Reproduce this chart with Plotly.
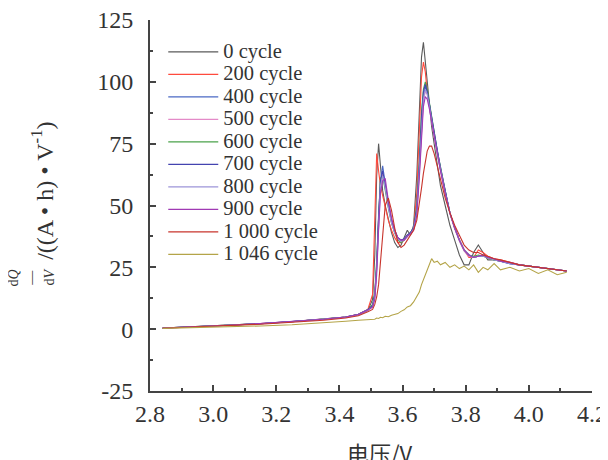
import plotly.graph_objects as go

voltage = [2.84, 2.95, 3.05, 3.15, 3.25, 3.35, 3.42, 3.46, 3.49, 3.505,
           3.512, 3.518, 3.524, 3.53, 3.537, 3.545, 3.555, 3.565, 3.575, 3.585,
           3.595, 3.605, 3.615, 3.625, 3.635, 3.645, 3.653, 3.66, 3.666, 3.672,
           3.678, 3.685, 3.692, 3.70, 3.71, 3.72, 3.735, 3.75, 3.765, 3.78,
           3.795, 3.81, 3.825, 3.84, 3.855, 3.87, 3.89, 3.91, 3.94, 3.97,
           4.00, 4.03, 4.06, 4.09, 4.12]

c0 = [0.4, 1.0, 1.5, 2.2, 3.0, 3.9, 4.8, 5.8, 7.5, 12,
      30, 62, 75, 66, 56, 50, 44, 39, 35, 33,
      34, 37, 40, 38, 42, 62, 90, 110, 116, 108,
      98, 90, 82, 75, 66, 58, 50, 42, 36, 30,
      26, 26, 31, 34, 31, 28, 28, 27.5, 26.5, 26,
      25.5, 25, 24.5, 24, 23.5]
c200 = [0.5, 1.1, 1.6, 2.3, 3.1, 4.0, 4.9, 6.0, 8.0, 14,
        40, 71, 64, 58, 54, 49, 44, 40, 37, 35,
        35, 36, 38, 39, 41, 55, 82, 102, 108, 104,
        96, 90, 84, 78, 71, 64, 55, 47, 41, 36,
        32, 29, 29, 32, 31, 29.5, 28.5, 28, 27, 26,
        25.5, 25, 24.5, 24, 23.5]
c400 = [0.5, 1.0, 1.6, 2.2, 3.1, 4.0, 4.9, 5.9, 7.8, 9,
        14, 25, 45, 60, 66, 58, 50, 44, 40, 37,
        36, 36.5, 38, 39, 41, 48, 65, 84, 94, 98,
        96, 91, 85, 79, 72, 65, 56, 47, 41, 36,
        32, 30, 29, 29.5, 29.5, 29, 28, 27.5, 26.5, 26,
        25.5, 25, 24.5, 24, 23.5]
c500 = [0.4, 1.0, 1.5, 2.3, 3.0, 3.9, 4.8, 5.8, 7.6, 9,
        13, 24, 43, 58, 63, 57, 49, 43, 39, 36.5,
        35.5, 36, 37.5, 38.5, 40.5, 47, 63, 82, 92, 96,
        95, 90, 84, 78, 71, 64, 55, 46.5, 40.5, 35.5,
        31.5, 29.5, 29, 29.5, 30, 29, 28.5, 27.5, 27, 26,
        25.5, 25, 24.5, 24, 23.5]
c600 = [0.5, 1.1, 1.6, 2.2, 3.0, 4.0, 4.9, 5.9, 7.7, 10,
        15, 28, 48, 61, 62, 56, 49, 43, 39, 36,
        35, 36, 37.5, 39, 41, 50, 68, 88, 97, 100,
        97, 92, 86, 80, 72, 65, 56, 47, 41, 36,
        32, 30, 29.5, 30, 29.5, 29, 28, 27.5, 26.5, 26,
        25.5, 25, 24.5, 24, 23.5]
c700 = [0.5, 1.0, 1.6, 2.3, 3.1, 4.0, 4.9, 6.0, 7.9, 9.5,
        14, 26, 46, 60, 64, 58, 50, 44, 40, 37,
        36, 36.5, 38, 39, 41, 49, 66, 86, 96, 99,
        96, 91, 85, 79, 72, 65, 56, 47, 41, 36,
        32, 30, 29, 29.5, 30, 29, 28.5, 27.5, 26.5, 26,
        25.5, 25, 24.5, 24, 23.5]
c800 = [0.4, 1.0, 1.5, 2.2, 3.0, 3.9, 4.8, 5.8, 7.6, 9,
        13, 24, 44, 58, 62, 57, 49, 43, 39, 36.5,
        35.5, 36, 37.5, 38.5, 40.5, 47, 64, 83, 93, 97,
        95, 90, 84, 78, 71, 64, 55, 47, 41, 36,
        32, 30, 29, 29.5, 29.5, 29, 28, 27.5, 26.5, 26,
        25.5, 25, 24.5, 24, 23.5]
c900 = [0.5, 1.0, 1.6, 2.3, 3.1, 4.0, 4.9, 5.9, 7.7, 9,
        12, 22, 40, 55, 60, 61, 52, 45, 40, 37,
        36, 36, 37.5, 38.5, 40, 46, 61, 80, 90, 94,
        93, 89, 84, 78, 71, 64, 55, 47, 41, 36,
        32, 30, 29, 29.5, 30, 29, 28.5, 27.5, 27, 26,
        25.5, 25, 24.5, 24, 23.5]
c1000 = [0.4, 0.9, 1.4, 2.0, 2.8, 3.6, 4.5, 5.4, 7.0, 8,
         10, 13, 18, 28, 40, 50, 53, 48, 41, 35,
         33, 34, 36, 38, 40, 44, 50, 57, 63, 68,
         72, 74, 74, 71, 66, 60, 53, 47, 42, 38,
         34, 32, 31, 31, 30, 29.5, 28.5, 28, 27, 26,
         25.5, 25, 24.5, 24, 23.5]
c1046 = [0.3, 0.6, 0.9, 1.3, 1.8, 2.5, 3.2, 3.6, 4.0, 4.2,
         4.0, 4.5, 4.3, 4.8, 4.6, 5.2, 5.0, 5.6, 6.0, 6.3,
         7.2, 7.8, 9.0, 9.5, 11, 13, 15, 18, 20, 22,
         24.5, 27, 28.5, 27, 27.5, 26, 27, 25, 26, 24.5,
         25.5, 24, 26, 23, 25, 24, 26.5, 24, 25, 23.5,
         24.5, 22.5, 24, 22, 23]

names = ["0 cycle", "200 cycle", "400 cycle", "500 cycle", "600 cycle",
         "700 cycle", "800 cycle", "900 cycle", "1 000 cycle", "1 046 cycle"]
series = [c0, c200, c400, c500, c600, c700, c800, c900, c1000, c1046]
colors = ["#5a5a5a", "#ff4a3d", "#4a68c4", "#e48ac8", "#4aa24a",
          "#4444b0", "#9c94d8", "#a03ab4", "#c8342c", "#b4a448"]

x_ticks = [2.8, 3.0, 3.2, 3.4, 3.6, 3.8, 4.0, 4.2]
x_labels = ["2.8", "3.0", "3.2", "3.4", "3.6", "3.8", "4.0", "4.2"]
y_ticks = [-25, 0, 25, 50, 75, 100, 125]
y_labels = ["-25", "0", "25", "50", "75", "100", "125"]

serif = "Liberation Serif"

fig = go.Figure()
for name, ys, col in zip(names, series, colors):
    fig.add_trace(go.Scatter(
        x=voltage, y=ys, mode="lines",
        name='<span style="font-size:20.5px">' + name + '</span>',
        line=dict(color=col, width=1.1)))

axis_common = dict(showline=True, linecolor="#444", linewidth=2,
                   ticks="inside", ticklen=6, tickwidth=2, tickcolor="#444",
                   showgrid=False, zeroline=False, mirror=False,
                   automargin=False, ticklabeloverflow="allow",
                   tickfont=dict(family=serif, size=24, color="#333"))

# the page body adds an 8 px offset, so the figure is 600x452
fig.update_layout(
    width=600, height=452,
    margin=dict(l=142, r=16, t=12, b=69),
    paper_bgcolor="white", plot_bgcolor="white",
    xaxis=dict(range=[2.8, 4.2], tickvals=x_ticks, ticktext=x_labels,
               minor=dict(dtick=0.1, tick0=2.8, ticks="inside", ticklen=3,
                          tickwidth=2, tickcolor="#444"),
               **axis_common),
    yaxis=dict(range=[-25, 125], tickvals=y_ticks, ticktext=y_labels,
               ticklabelstandoff=10,
               minor=dict(dtick=12.5, tick0=0, ticks="inside", ticklen=3,
                          tickwidth=2, tickcolor="#444"),
               **axis_common),
    legend=dict(x=0.03, y=0.958, xanchor="left", yanchor="top",
                bgcolor="rgba(0,0,0,0)", itemwidth=50,
                font=dict(family=serif, size=15, color="#333"),
                tracegroupgap=0),
    showlegend=True,
)

# x-axis title
fig.add_annotation(text="电压/V", xref="paper", yref="paper", x=0.52, y=-0.165,
                   xanchor="center", yanchor="middle", showarrow=False,
                   font=dict(family="Noto Sans CJK SC", size=22, color="#333"))
# y-axis title: fraction dQ/dV followed by the unit text
fig.add_annotation(text="/((A • h) • V<sup>-1</sup>)", xref="paper", yref="paper",
                   x=-0.244, y=0.54, xanchor="center", yanchor="middle",
                   textangle=-90, showarrow=False,
                   font=dict(family=serif, size=24, color="#333"))
fig.add_annotation(text="d<i>Q</i><br>—<br>d<i>V</i>", xref="paper", yref="paper",
                   x=-0.268, y=0.305, xanchor="center", yanchor="middle",
                   textangle=-90, showarrow=False,
                   font=dict(family=serif, size=14, color="#333"))

fig.write_html("out.html")
